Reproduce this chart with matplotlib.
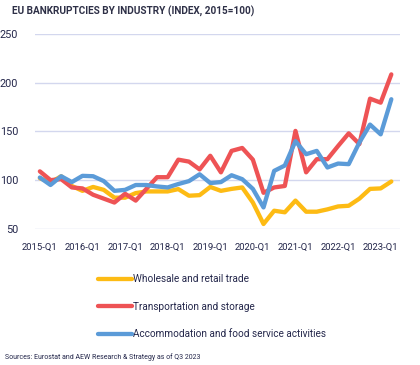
import matplotlib
matplotlib.use("Agg")
import matplotlib.pyplot as plt

quarters = list(range(34))
tick_pos = list(range(0, 34, 4))
tick_labels = ["2015-Q1", "2016-Q1", "2017-Q1", "2018-Q1", "2019-Q1",
               "2020-Q1", "2021-Q1", "2022-Q1", "2023-Q1"]

wholesale = [102, 97.6, 104, 94, 89, 93, 90, 82, 82, 86.7, 88.4, 88.4, 88.4, 90.8,
             84, 84.6, 93, 89, 91, 92.5, 77, 55, 68.6, 67, 79, 67.6, 67.6, 70,
             73, 73.7, 81, 91, 91.5, 98.6]
transport = [109, 100, 101, 92.5, 91.5, 85, 81, 77, 86, 79, 91, 103, 103, 121,
             119, 111, 125, 108, 130, 133, 121, 87, 92.5, 94, 150.5, 108, 121.5,
             121.5, 135, 148, 137, 183.6, 179.5, 208.5]
accommodation = [102.7, 95, 104, 98, 104.4, 104, 99, 89, 90, 95, 95, 93.5, 92.5,
                 96, 99, 106, 97, 98, 105, 101, 91, 72, 109.5, 115, 140, 126.6,
                 130, 113, 117, 116.4, 138.6, 157, 147, 183]

series_names = ["Wholesale and retail trade", "Transportation and storage",
                "Accommodation and food service activities"]
colors = ["#FDBB14", "#EE5355", "#5B9BD8"]

plt.rcParams["font.family"] = ["Roboto", "DejaVu Sans"]
navy = "#23264A"

fig = plt.figure(figsize=(4.2, 3.65), dpi=100)
ax = fig.add_axes([0.083, 0.373, 0.869, 0.534])

for vals, name, c in zip([wholesale, transport, accommodation], series_names, colors):
    ax.plot(quarters, vals, color=c, lw=3.1, label=name,
            solid_joinstyle="round", solid_capstyle="round")

ax.set_ylim(50, 250)
ax.set_xlim(-0.47, 33.8)
ax.set_yticks([50, 100, 150, 200, 250])
ax.set_xticks(tick_pos)
ax.set_xticklabels(tick_labels)
ax.grid(axis="y", color="#D3D7EE", lw=1)
ax.set_axisbelow(True)
for s in ax.spines.values():
    s.set_visible(False)
ax.tick_params(axis="x", length=0, labelsize=6.8, colors=navy, pad=10)
ax.tick_params(axis="y", length=0, labelsize=7.8, colors=navy, pad=12)

fig.text(0.029, 0.968, "EU BANKRUPTCIES BY INDUSTRY (INDEX, 2015=100)",
         fontsize=7.2, fontweight="bold", color="#2E3047", va="center")

leg = fig.legend(loc="upper left", bbox_to_anchor=(0.233, 0.249), frameon=False,
                 fontsize=7.2, handlelength=3.4, handletextpad=0.1,
                 labelspacing=1.75, borderaxespad=0, borderpad=0)
for t in leg.get_texts():
    t.set_color(navy)

fig.text(0.012, 0.022, "Sources: Eurostat and AEW Research & Strategy as of Q3 2023",
         fontsize=5, color=navy, va="center")

fig.savefig("out.png", dpi=100)
